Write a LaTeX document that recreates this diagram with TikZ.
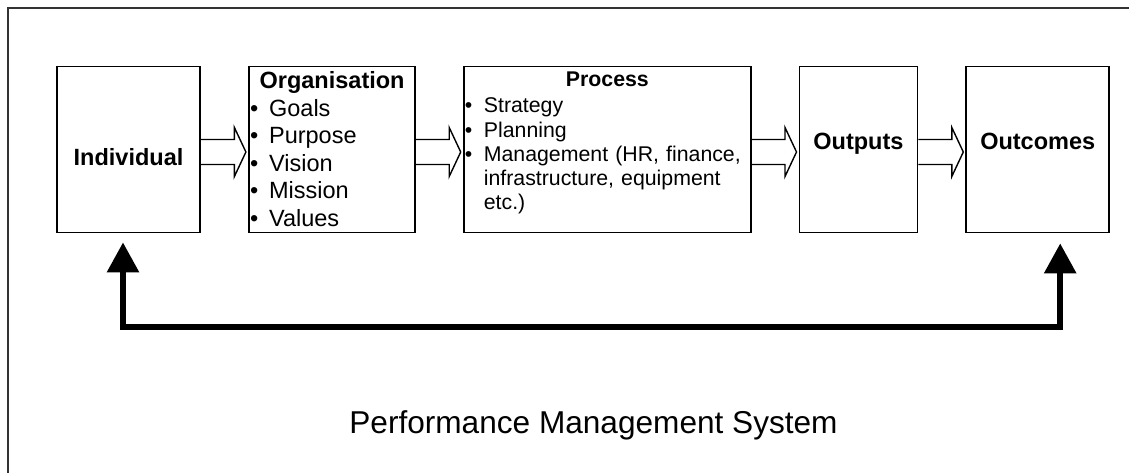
\documentclass[tikz,border=0pt]{standalone}
\usepackage{fontspec}
\setmainfont{Liberation Sans}
\usetikzlibrary{arrows.meta,calc,positioning}

\newcommand{\blockarrow}[2]{\draw[blockarr] let \p1=(#1.east), \p2=(#2.west) in (\x1,\y1+10pt) -- (\x2-13.5pt,\y1+10pt) -- (\x2-13.5pt,\y1+22pt) -- (\x2-2pt,\y1-2.5pt) -- (\x2-13.5pt,\y1-27pt) -- (\x2-13.5pt,\y1-15pt) -- (\x1,\y1-15pt);}
\newcommand{\bul}[1]{\makebox[19pt][l]{\textbullet}#1}

\begin{document}
\begin{tikzpicture}[x=1pt,y=-1pt,
	box/.style={draw, line width=1.8pt, inner sep=0pt, minimum height=166pt, font=\fontsize{23.5}{27.5}\selectfont\bfseries},
	listtext/.style={inner sep=0pt, anchor=north west, align=left},
	blockarr/.style={line width=1.4pt, line join=miter},
	feedback/.style={line width=6pt, line join=miter, {Triangle[length=30pt,width=31pt]}-{Triangle[length=30pt,width=31pt]}},
	frame/.style={draw=black!80, line width=2.5pt}]
	\useasboundingbox (0,0) rectangle (1129,473);
	\draw[frame] (8,8) rectangle (1150,500);
	% boxes
	\node[box, minimum width=143pt, text height=32pt] (ind) at (128.5,149.5) {Individual};
	\node[box, minimum width=166pt, right=47pt of ind] (org) {};
	\node[box, minimum width=287pt, right=47pt of org] (proc) {};
	\node[box, minimum width=118pt, text depth=15.5pt, right=47pt of proc] (outp) {Outputs};
	\node[box, minimum width=143pt, text depth=15.5pt, right=47pt of outp] (outc) {Outcomes};
	% box contents
	\node[listtext, text width=164pt, font=\fontsize{23.5}{27.5}\selectfont] (orgtext) at ($(org.north west)+(2,6)$) {\makebox[164pt]{\bfseries Organisation}\\ \bul{Goals}\\ \bul{Purpose}\\ \bul{Vision}\\ \bul{Mission}\\ \bul{Values}};
	\node[listtext, text width=285pt, font=\fontsize{21.3}{24.2}\selectfont] (proctext) at ($(proc.north west)+(2,6.5)$) {\makebox[285pt]{\bfseries Process}\\[1.8pt] \bul{Strategy}\\ \bul{Planning}\\ \bul{Management (HR, finance,}\\ \hspace*{19pt}infrastructure, equipment\\ \hspace*{19pt}etc.)};
	% arrows
	\blockarrow{ind}{org}
	\blockarrow{org}{proc}
	\blockarrow{proc}{outp}
	\blockarrow{outp}{outc}
	\coordinate (fbl) at ($(ind.south)+(-5.5,94)$);
	\coordinate (fbr) at ($(outc.south)+(22.5,94)$);
	\draw[feedback] ($(ind.south)+(-5.5,9)$) -- (fbl) -- (fbr) -- ($(outc.south)+(22.5,10)$);
	\node[anchor=base, inner sep=0pt, font=\fontsize{31.6}{36}\selectfont] (pms) at (593.5,433) {Performance Management System};
\end{tikzpicture}
\end{document}
